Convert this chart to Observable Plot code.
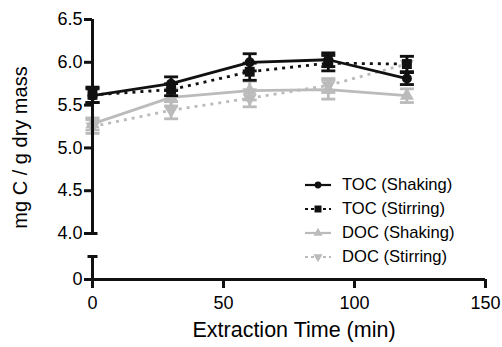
<!DOCTYPE html>
<html>
<head>
<meta charset="utf-8">
<script src="https://cdn.jsdelivr.net/npm/d3@7"></script>
<script src="https://cdn.jsdelivr.net/npm/@observablehq/plot@0.6"></script>
<style>
  html, body { margin: 0; padding: 0; background: #fff; }
  #wrap { position: relative; width: 502px; height: 347px; font-family: "Liberation Sans", Arial, sans-serif; color: #000; }
  #legend { position: absolute; left: 304px; top: 173px; }
  .row { display: flex; align-items: center; height: 24px; font-size: 16.6px; }
  .row svg { margin-right: 10px; }
</style>
</head>
<body>
<div id="wrap"></div>
<script>
// ---- data ----
const times = [0, 30, 60, 90, 120];
const tocShaking = [5.61, 5.75, 6.00, 6.03, 5.81];
const tocShakingErr = [0.08, 0.08, 0.10, 0.08, 0.07];
const tocStirring = [5.62, 5.68, 5.89, 5.99, 5.98];
const tocStirringErr = [0.09, 0.07, 0.10, 0.09, 0.09];
const docShaking = [5.28, 5.59, 5.67, 5.68, 5.61];
const docShakingErr = [0.07, 0.10, 0.11, 0.11, 0.08];
const docStirring = [5.25, 5.44, 5.58, 5.73, 5.98];
const docStirringErr = [0.08, 0.10, 0.10, 0.08, 0.09];

const seriesNames = ["TOC (Shaking)", "TOC (Stirring)", "DOC (Shaking)", "DOC (Stirring)"];
const xTicks = [0, 50, 100, 150];
const yTicks = [0, 4.0, 4.5, 5.0, 5.5, 6.0, 6.5];
const yLowSegment = [0, 2];     // lower piece of the broken y axis
const yHighSegment = [4, 6.5];  // upper piece of the broken y axis

// broken-axis mapping: values >= 4 keep their place, 0..4 is squeezed into a short gap
const yBreakAt = 4;
const yBreakGap = 0.537;
const yPos = v => v >= yBreakAt ? v : yBreakAt - yBreakGap + v * (yBreakGap / yBreakAt);
const yInv = u => u >= yBreakAt - 1e-9 ? u : (u - (yBreakAt - yBreakGap)) / (yBreakGap / yBreakAt);

const BLACK = "#111";
const GRAY = "#bbbbbb";

const series = [
  {name: seriesNames[0], v: tocShaking, e: tocShakingErr, color: BLACK, dash: null, symbol: "circle", rotate: 0, r: 5},
  {name: seriesNames[1], v: tocStirring, e: tocStirringErr, color: BLACK, dash: "3 5", symbol: "square", rotate: 0, r: 5.6},
  {name: seriesNames[2], v: docShaking, e: docShakingErr, color: GRAY, dash: null, symbol: "triangle", rotate: 0, r: 5.2},
  {name: seriesNames[3], v: docStirring, e: docStirringErr, color: GRAY, dash: "3 5", symbol: "triangle", rotate: 180, r: 5.2}
];

const hline = {
  draw(ctx, size) {
    const w = Math.sqrt(size / Math.PI);
    ctx.moveTo(-w, 0);
    ctx.lineTo(w, 0);
  }
};

const drawOrder = [3, 2, 1, 0];
const marks = [];
for (const i of drawOrder) {
  const s = series[i];
  const rows = times.map((t, k) => ({t, v: yPos(s.v[k]), lo: yPos(s.v[k] - s.e[k]), hi: yPos(s.v[k] + s.e[k])}));
  marks.push(Plot.line(rows, {x: "t", y: "v", stroke: s.color, strokeWidth: 2.8,
    strokeDasharray: s.dash || undefined, strokeLinecap: "butt"}));
  marks.push(Plot.ruleX(rows, {x: "t", y1: "lo", y2: "hi", stroke: s.color, strokeWidth: 2.8}));
  marks.push(Plot.dot(rows, {x: "t", y: "lo", symbol: hline, r: 7, fill: "none", stroke: s.color, strokeWidth: 2.8}));
  marks.push(Plot.dot(rows, {x: "t", y: "hi", symbol: hline, r: 7, fill: "none", stroke: s.color, strokeWidth: 2.8}));
  marks.push(Plot.dot(rows, {x: "t", y: "v", symbol: s.symbol, r: s.r, fill: s.color, stroke: "none", rotate: s.rotate}));
}

const chart = Plot.plot({
  width: 502,
  height: 347,
  marginLeft: 92,
  marginRight: 17,
  marginTop: 19,
  marginBottom: 68,
  style: {fontFamily: "Liberation Sans, Arial, sans-serif", color: "#000", background: "#fff", overflow: "visible"},
  x: {domain: [0, 150], axis: null},
  y: {domain: [yPos(0), 6.5], axis: null},
  marks: [
    ...marks,
    // broken y axis
    Plot.ruleX([0], {y1: yPos(yHighSegment[0]), y2: yPos(yHighSegment[1]), stroke: BLACK, strokeWidth: 3}),
    Plot.ruleX([0], {y1: yPos(yLowSegment[0]), y2: yPos(yLowSegment[1]), stroke: BLACK, strokeWidth: 3}),
    Plot.dot([yLowSegment[1], yHighSegment[0]], {x: () => 0, y: d => yPos(d), symbol: hline, r: 5, fill: "none", stroke: BLACK, strokeWidth: 3}),
    // x axis line
    Plot.ruleY([yPos(0)], {x1: xTicks[0], x2: xTicks[xTicks.length - 1], stroke: BLACK, strokeWidth: 3}),
    Plot.axisX({ticks: xTicks, tickSize: 9, tickPadding: 8, strokeWidth: 3, stroke: BLACK, fontSize: 18, label: null, anchor: "bottom"}),
    Plot.axisY({ticks: yTicks.map(yPos), tickSize: 8, tickPadding: 2, strokeWidth: 3, stroke: BLACK, fontSize: 18, label: null, anchor: "left",
      tickFormat: u => { const v = Math.round(yInv(u) * 10) / 10; return v === 0 ? "0" : v.toFixed(1); }}),
    Plot.text(["Extraction Time (min)"], {frameAnchor: "bottom", dy: 57, dx: 5, fontSize: 21.5, fill: "#000", textAnchor: "middle"}),
    Plot.text(["mg C / g dry mass"], {frameAnchor: "left", dx: -72, dy: -2, rotate: -90, fontSize: 20, fill: "#000", textAnchor: "middle"})
  ]
});

const wrap = document.getElementById("wrap");
wrap.appendChild(chart);

// legend
const legend = document.createElement("div");
legend.id = "legend";
const symPath = {
  circle: d3.symbol(d3.symbolCircle, 36)(),
  square: d3.symbol(d3.symbolSquare, 49)(),
  triangle: d3.symbol(d3.symbolTriangle, 36)()
};
for (const s of series) {
  const row = document.createElement("div");
  row.className = "row";
  const w = 28, h = 16;
  const dash = s.dash ? `stroke-dasharray="3 3"` : "";
  row.innerHTML = `<svg width="${w}" height="${h}" viewBox="0 0 ${w} ${h}">
    <line x1="1" x2="${w - 1}" y1="${h / 2}" y2="${h / 2}" stroke="${s.color}" stroke-width="2.2" ${dash}/>
    <path d="${symPath[s.symbol]}" transform="translate(${w / 2},${h / 2}) rotate(${s.rotate})" fill="${s.color}"/>
  </svg><span>${s.name}</span>`;
  legend.appendChild(row);
}
wrap.appendChild(legend);
</script>
</body>
</html>
